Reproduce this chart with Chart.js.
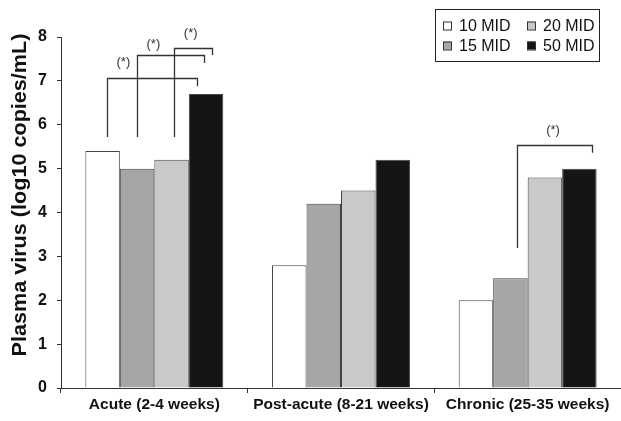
<!DOCTYPE html>
<html><head><meta charset="utf-8">
<script src="https://cdn.jsdelivr.net/npm/chart.js@4.4.1/dist/chart.umd.min.js"></script>
<style>html,body{margin:0;padding:0;background:#fff;overflow:hidden}#wrap{width:621px;height:421px;position:relative}</style>
</head><body><div id="wrap"><canvas id="c" width="621" height="421"></canvas></div>
<script>
const categories = ['Acute (2-4 weeks)', 'Post-acute (8-21 weeks)', 'Chronic (25-35 weeks)'];
const seriesNames = ['10 MID', '15 MID', '20 MID', '50 MID'];
const mid10 = [5.4, 2.8, 2.0];
const mid15 = [5.0, 4.2, 2.5];
const mid20 = [5.2, 4.5, 4.8];
const mid50 = [6.7, 5.2, 5.0];
const yTicks = [0, 1, 2, 3, 4, 5, 6, 7, 8];
const yTitle = 'Plasma virus (log10 copies/mL)';
// significance brackets (category index, offsets in category units, levels in data units)
const sigBrackets = [
  {cat: 0, x1: -0.252, x2: 0.227, y1: 5.72, yTop: 7.06, y2: 6.88, lx: -0.166, ly: 7.41, label: '(*)'},
  {cat: 0, x1: -0.094, x2: 0.266, y1: 5.72, yTop: 7.59, y2: 7.41, lx: -0.005, ly: 7.84, label: '(*)'},
  {cat: 0, x1: 0.107, x2: 0.307, y1: 5.72, yTop: 7.74, y2: 7.59, lx: 0.195, ly: 8.08, label: '(*)'},
  {cat: 2, x1: -0.056, x2: 0.343, y1: 3.19, yTop: 5.53, y2: 5.36, lx: 0.136, ly: 5.88, label: '(*)'}
];

const colors = ['#ffffff', '#a6a6a6', '#c9c9c9', '#151515'];
const seriesValues = [mid10, mid15, mid20, mid50];
const FONT = "'Liberation Sans', Arial, Helvetica, sans-serif";

const extras = {
  id: 'extras',
  afterDraw(chart) {
    const ctx = chart.ctx, xs = chart.scales.x, ys = chart.scales.y;
    ctx.save();
    // brackets
    ctx.strokeStyle = '#333';
    ctx.lineWidth = 1.3;
    ctx.fillStyle = '#333';
    ctx.font = '13px ' + FONT;
    ctx.textAlign = 'center';
    ctx.textBaseline = 'middle';
    sigBrackets.forEach(b => {
      const xa = Math.round(xs.getPixelForValue(b.cat + b.x1)) + 0.5;
      const xb = Math.round(xs.getPixelForValue(b.cat + b.x2)) + 0.5;
      ctx.beginPath();
      ctx.moveTo(xa, ys.getPixelForValue(b.y1));
      ctx.lineTo(xa, Math.round(ys.getPixelForValue(b.yTop)) + 0.5);
      ctx.lineTo(xb, Math.round(ys.getPixelForValue(b.yTop)) + 0.5);
      ctx.lineTo(xb, ys.getPixelForValue(b.y2));
      ctx.stroke();
      ctx.fillText(b.label, xs.getPixelForValue(b.cat + b.lx), ys.getPixelForValue(b.ly));
    });
    // y title
    ctx.save();
    ctx.translate(20, 195);
    ctx.rotate(-Math.PI / 2);
    ctx.scale(1.08, 1);
    ctx.fillStyle = '#111';
    ctx.font = 'bold 20px ' + FONT;
    ctx.fillText(yTitle, 0, 0);
    ctx.restore();
    // legend
    const bx = 435.5, by = 9.5, bw = 164, bh = 52;
    ctx.strokeStyle = '#222';
    ctx.lineWidth = 1;
    ctx.strokeRect(bx, by, bw, bh);
    const colX = [443, 527], rowY = [21.5, 41.5];
    ctx.font = '16px ' + FONT;
    ctx.textAlign = 'left';
    ctx.textBaseline = 'alphabetic';
    chart.data.datasets.forEach((ds, i) => {
      const col = Math.floor(i / 2), row = i % 2;
      const x = colX[col], y = rowY[row];
      ctx.fillStyle = ds.backgroundColor;
      ctx.fillRect(x, y, 8, 8);
      ctx.strokeStyle = '#333';
      ctx.strokeRect(x + 0.5, y + 0.5, 8, 8);
      ctx.fillStyle = '#111';
      ctx.fillText(ds.label, x + 16, y + 9);
    });
    ctx.restore();
  }
};

new Chart(document.getElementById('c'), {
  type: 'bar',
  data: {
    labels: categories,
    datasets: seriesNames.map((n, i) => ({
      label: n,
      data: seriesValues[i],
      backgroundColor: colors[i],
      borderColor: '#444',
      borderWidth: 1,
      categoryPercentage: 0.739,
      barPercentage: 1.0
    }))
  },
  options: {
    responsive: false,
    animation: false,
    devicePixelRatio: 1,
    layout: {padding: {left: 0, right: 0, top: 37, bottom: 0}},
    plugins: {legend: {display: false}, tooltip: {enabled: false}},
    scales: {
      x: {
        grid: {display: true, drawOnChartArea: false, offset: true, tickLength: 5, color: '#333'},
        border: {color: '#333', width: 1},
        ticks: {font: {family: FONT, weight: 'bold', size: 15.5}, color: '#111', padding: 2, maxRotation: 0, autoSkip: false},
        afterFit(s) { s.height = 33; }
      },
      y: {
        min: 0, max: 8,
        afterBuildTicks(s) { s.ticks = yTicks.map(v => ({value: v})); },
        grid: {drawOnChartArea: false, tickLength: 4, color: '#333'},
        border: {color: '#333', width: 1},
        ticks: {font: {family: FONT, weight: 'bold', size: 16}, color: '#111', padding: 10},
        afterFit(s) { s.width = 61; }
      }
    }
  },
  plugins: [extras]
});
</script>
</body></html>
